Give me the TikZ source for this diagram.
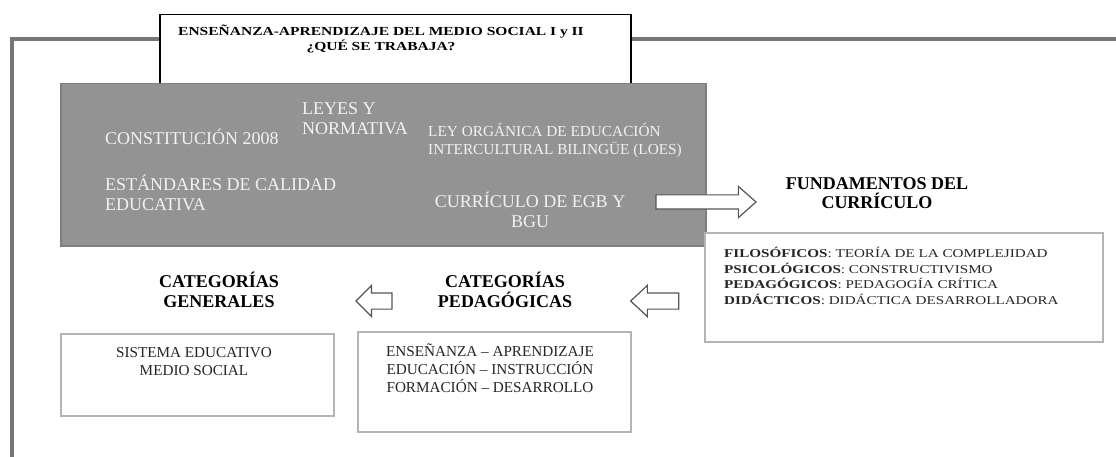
\documentclass[tikz,border=0pt]{standalone}
\usepackage{fontspec}
\setmainfont{Liberation Serif}
\newfontfamily\widefont[FakeStretch=1.26]{Liberation Serif}
\usetikzlibrary{shapes.arrows,positioning}

\definecolor{framegray}{HTML}{767676}
\definecolor{fillgray}{HTML}{939393}
\definecolor{edgegray}{HTML}{7E7E7E}
\definecolor{listgray}{HTML}{B4B4B4}
\definecolor{arrowgray}{HTML}{555555}
\definecolor{lighttext}{HTML}{F2F2F2}

\begin{document}
\begin{tikzpicture}[x=1pt,y=-1pt]
\tikzstyle{graytext}=[text=lighttext, inner sep=0pt, font=\fontsize{18}{20}\selectfont]
\tikzstyle{smallgray}=[text=lighttext, inner sep=0pt, font=\fontsize{15.3}{18}\selectfont]
\tikzstyle{heading}=[inner sep=0pt, align=center, font=\bfseries\fontsize{18}{19.5}\selectfont]
\tikzstyle{listbox}=[draw=listgray, line width=1.6pt, fill=white, anchor=north west]
\tikzstyle{listtext}=[inner sep=0pt, align=center, text=black!85, font=\fontsize{15.2}{18}\selectfont]
\tikzstyle{blockarrow}=[single arrow, draw=arrowgray, fill=white, line width=1.2pt, inner sep=0pt]

\useasboundingbox (0,0) rectangle (1116,457);

% outer frame
\draw[framegray, line width=4pt] (1116,39) -- (12,39) -- (12,457);

% title and the grey block
\node[draw, line width=1.5pt, fill=white, anchor=north west, minimum width=471pt, minimum height=69pt] (titlebox) at (159,14) {};
\node[inner sep=0pt, align=center, font=\widefont\bfseries\fontsize{12.3}{10.8}\selectfont] (title) at (381,39)
  {ENSEÑANZA-APRENDIZAJE DEL MEDIO SOCIAL I y II\\¿QUÉ SE TRABAJA?};
\node[draw=edgegray, fill=fillgray, line width=1.5pt, anchor=north west, minimum width=645pt, minimum height=162pt] (graybox) at (60,83) {};

\node[graytext, anchor=west] (constitucion) at (105,137) {CONSTITUCIÓN 2008};
\node[graytext, anchor=west, align=left] (leyes) at (302,119) {LEYES Y\\NORMATIVA};
\node[smallgray, anchor=west, align=left] (loei) at (428,141) {LEY ORGÁNICA DE EDUCACIÓN\\INTERCULTURAL BILINGÜE (LOES)};
\node[graytext, anchor=west, align=left] (estandares) at (105,193) {ESTÁNDARES DE CALIDAD\\EDUCATIVA};
\node[graytext, align=center] (curriculo) at (530,210) {CURRÍCULO DE EGB Y\\BGU};

% fundamentos
\node[blockarrow, minimum height=100pt, inner ysep=6.5pt, single arrow head extend=8.5pt, single arrow tip angle=83] (arrowfund) at (702,202) {};
\node[heading] (fundamentos) at (877,193) {FUNDAMENTOS DEL\\CURRÍCULO};
\node[listbox, minimum width=398pt, minimum height=109pt] (fundbox) at (704,232) {};
\node[inner sep=0pt, anchor=west, align=left, text=black!85, font=\widefont\fontsize{12}{15.6}\selectfont] (fundtext) at (724,276)
  {\textbf{FILOSÓFICOS}: TEORÍA DE LA COMPLEJIDAD\\
   \textbf{PSICOLÓGICOS}: CONSTRUCTIVISMO\\
   \textbf{PEDAGÓGICOS}: PEDAGOGÍA CRÍTICA\\
   \textbf{DIDÁCTICOS}: DIDÁCTICA DESARROLLADORA};

% categorias
\node[blockarrow, shape border rotate=180, minimum height=48pt, inner ysep=7.5pt, single arrow head extend=7.5pt, single arrow tip angle=86] (arrowped) at (659,301) {};
\node[heading] (catped) at (505,290) {CATEGORÍAS\\PEDAGÓGICAS};
\node[listbox, minimum width=273pt, minimum height=100pt] (pedbox) at (357,331) {};
\node[listtext] (pedtext) at (490,368) {ENSEÑANZA – APRENDIZAJE\\EDUCACIÓN – INSTRUCCIÓN\\FORMACIÓN – DESARROLLO};

\node[blockarrow, shape border rotate=180, minimum height=36pt, inner ysep=7.5pt, single arrow head extend=7.5pt, single arrow tip angle=90] (arrowgen) at (378,301) {};
\node[heading] (catgen) at (219,290) {CATEGORÍAS\\GENERALES};
\node[listbox, minimum width=273pt, minimum height=82pt] (sistbox) at (60,333) {};
\node[listtext] (sisttext) at (194,362) {SISTEMA EDUCATIVO\\MEDIO SOCIAL};
\end{tikzpicture}
\end{document}
